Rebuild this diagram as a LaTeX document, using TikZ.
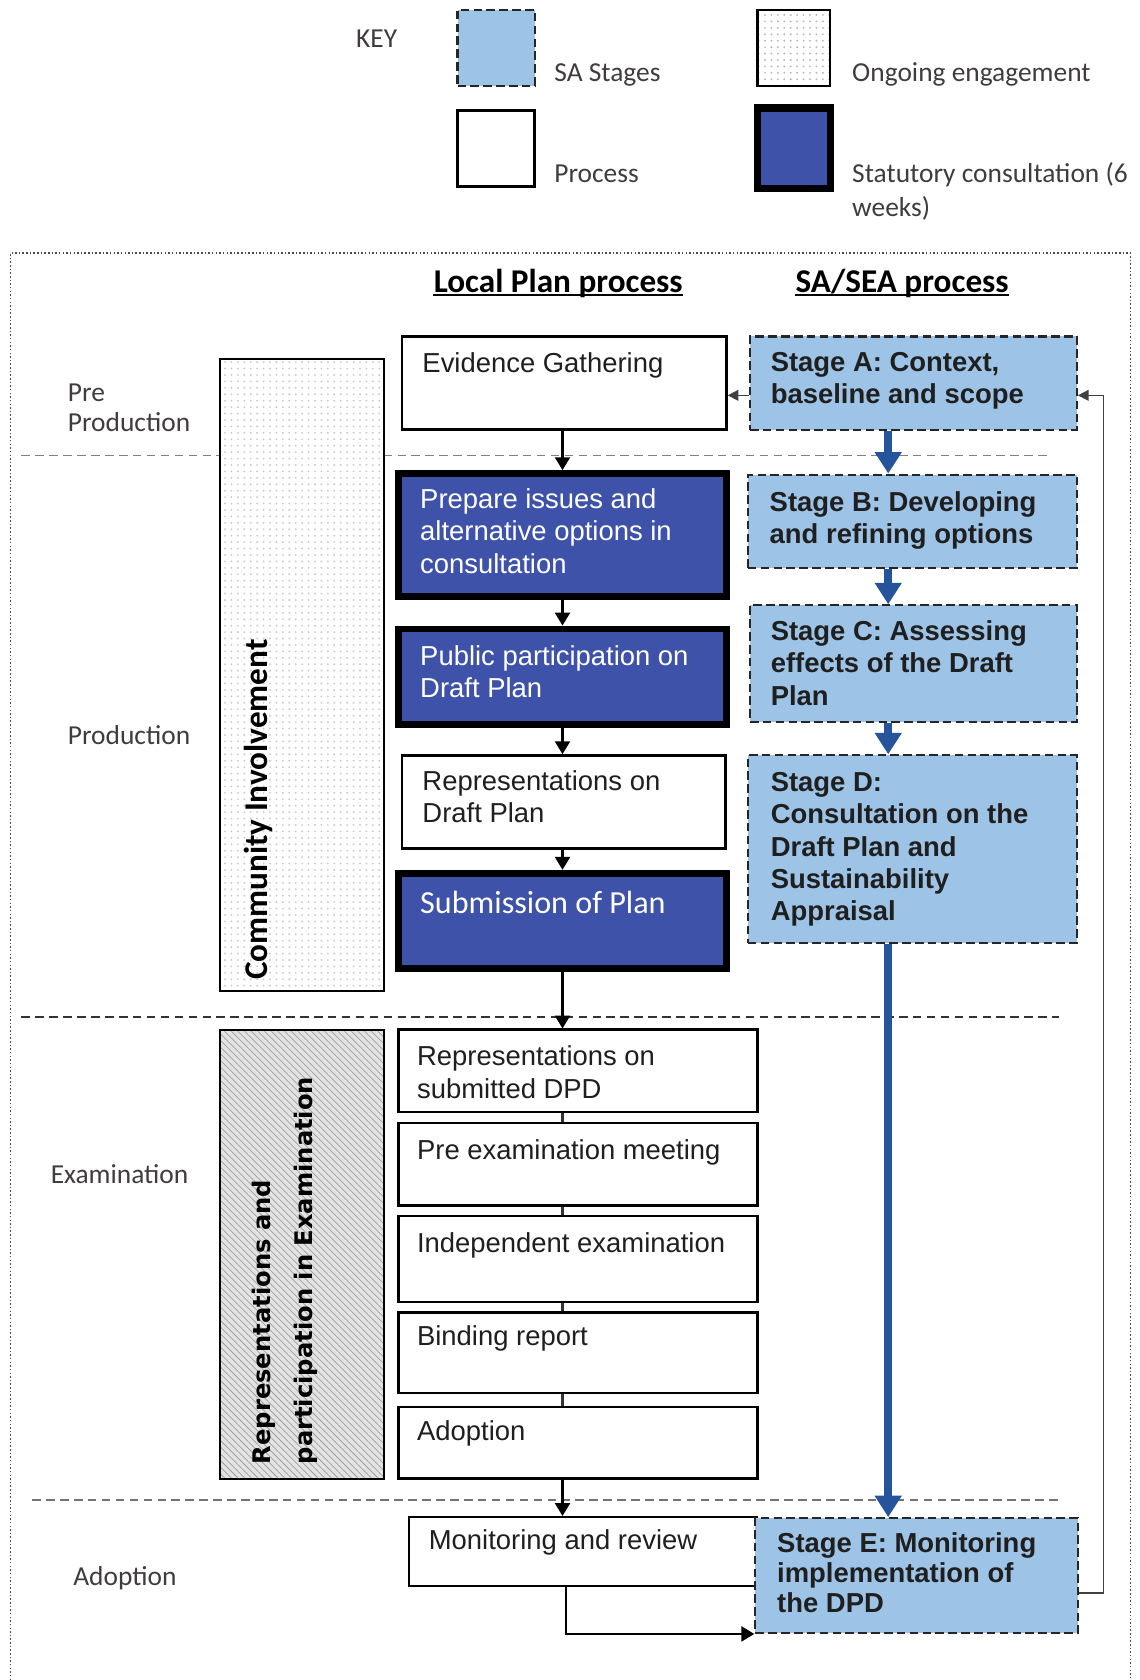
\documentclass[tikz,border=0pt]{standalone}
\usepackage{fontspec}
\setmainfont{Liberation Sans}
\newfontfamily\calfont{Carlito}
\newfontfamily\dvfont{DejaVu Sans}
\usetikzlibrary{arrows.meta,fit,patterns,patterns.meta}
\definecolor{dblue}{RGB}{62,82,170}
\definecolor{lblue}{RGB}{157,195,230}
\definecolor{ablue}{RGB}{38,84,156}
\definecolor{lbl}{RGB}{64,60,60}
\newcommand\ml[1]{\begin{tabular}[t]{@{}l@{}}#1\end{tabular}}
\tikzset{
  bx/.style={fit={#1}, inner sep=0pt, draw=black, line width=1.1pt, fill=white},
  stat/.style={fit={#1}, inner sep=0pt, draw=black, line width=3.2pt, fill=dblue},
  sabox/.style={fit={#1}, inner sep=0pt, draw=black!85, line width=1pt, dash pattern=on 4pt off 2pt, fill=lblue},
  tx/.style={anchor=base west, inner sep=0pt, font=\fontsize{12.8pt}{15pt}\selectfont, text=black!88},
  wtx/.style={tx, text=white},
  stx/.style={tx, font=\fontsize{12.8pt}{15pt}\selectfont\bfseries},
  lab/.style={anchor=base west, inner sep=0pt, font=\calfont\fontsize{12.8pt}{14pt}\selectfont, text=lbl},
  hdr/.style={anchor=base, inner sep=0pt, font=\calfont\bfseries\fontsize{15.5pt}{18pt}\selectfont},
  arr/.style={-{Triangle[length=6pt,width=7pt]}, line width=1pt, draw=black},
  sarr/.style={-{Triangle[length=5pt,width=5pt]}, line width=0.7pt, draw=black!75},
  conn/.style={line width=1pt, draw=black!80},
  barr/.style={-{Triangle[length=10pt,width=12pt]}, line width=3.5pt, draw=ablue, fill=ablue},
  sepline/.style={dash pattern=on 4pt off 2.5pt, line width=0.8pt},
}
\begin{document}
\begin{tikzpicture}[x=0.5pt,y=-0.5pt]
\useasboundingbox (0,0) rectangle (1064,1568);
% outer frame
\draw[black!70, line width=0.7pt, dash pattern=on 0.7pt off 1pt] (10,1568) -- (10,236) -- (1055,236) -- (1055,1568);

% key
\node[lab] (tkey) at (332,44) {KEY};
\node[sabox={(427,9) (499,80)}] (kSA) {};
\node[lab] (tkSA) at (517,76) {SA Stages};
\node[fit={(707,9) (775,80)}, inner sep=0pt, draw=black, line width=1pt, preaction={fill=white}, pattern=dots, pattern color=gray!55] (kOG) {};
\node[lab] (tkOG) at (795,76) {Ongoing engagement};
\node[bx={(427,103) (499,174)}] (kPR) {};
\node[lab] (tkPR) at (517,170) {Process};
\node[fit={(707,101) (775,176)}, inner sep=0pt, draw=black, line width=3.5pt, fill=dblue] (kST) {};
\node[lab, font=\calfont\fontsize{12.8pt}{16pt}\selectfont] (tkST) at (795,170) {\ml{Statutory consultation (6\\weeks)}};

% headers
\node[hdr] (h1) at (521,273) {Local Plan process};
\node[hdr] (h2) at (842,273) {SA/SEA process};
\draw[line width=0.9pt] ([yshift=-1.2pt]h1.base west) -- ([yshift=-1.2pt]h1.base east);
\draw[line width=0.9pt] ([yshift=-1.2pt]h2.base west) -- ([yshift=-1.2pt]h2.base east);

% separators
\draw[sepline, black!50] (20,425) -- (977,425);
\draw[sepline, black!80] (20,949) -- (988,949);
\draw[sepline, black!55] (30,1400) -- (991,1400);

% phase labels
\node[lab] (lpre) at (63,375) {\ml{Pre\\Production}};
\node[lab] (lprod) at (63,695) {Production};
\node[lab] (lexam) at (47,1105) {Examination};
\node[lab] (ladop) at (68,1480) {Adoption};

% community involvement
\node[fit={(205,335) (358,925)}, inner sep=0pt, draw=black, line width=1pt, preaction={fill=white}, pattern=dots, pattern color=gray!40] (ci) {};
\node[rotate=90, anchor=west, inner sep=0pt, font=\calfont\bfseries\fontsize{15.5pt}{18pt}\selectfont] (tci) at (241,915) {Community Involvement};

% representations and participation
\node[fit={(205,961) (358,1380)}, inner sep=0pt, draw=black, line width=1pt, preaction={fill=gray!22}, pattern={Lines[angle=-45,distance=2.2pt,line width=0.35pt]}, pattern color=gray!75] (rpe) {};
\node[rotate=90, anchor=west, inner sep=0pt, font=\dvfont\bfseries\fontsize{11.3pt}{20pt}\selectfont] (trpe) at (264,1367) {\ml{Representations and\\participation in Examination}};

% local plan column
\node[bx={(375,314) (678,401)}] (ev) {};
\node[tx] (tev) at ([shift={(20,35)}]ev.north west) {Evidence Gathering};
\node[stat={(372,442) (678,557)}] (prep) {};
\node[wtx] (tprep) at ([shift={(23,36)}]prep.north west) {\ml{Prepare issues and\\alternative options in\\consultation}};
\node[stat={(372,587) (678,676)}] (pub) {};
\node[wtx] (tpub) at ([shift={(23,37)}]pub.north west) {\ml{Public participation on\\Draft Plan}};
\node[bx={(375,705) (677,792)}] (rdp) {};
\node[tx] (trdp) at ([shift={(20,34)}]rdp.north west) {\ml{Representations on\\Draft Plan}};
\node[stat={(372,815) (678,904)}] (sub) {};
\node[wtx, font=\calfont\fontsize{15pt}{18pt}\selectfont] (tsub) at ([shift={(23,41)}]sub.north west) {Submission of Plan};

% examination
\node[bx={(372,961) (707,1038)}] (e1) {};
\node[tx] (te1) at ([shift={(18,35)}]e1.north west) {\ml{Representations on\\submitted DPD}};
\node[bx={(372,1048) (707,1125)}] (e2) {};
\node[tx] (te2) at ([shift={(18,35)}]e2.north west) {Pre examination meeting};
\node[bx={(372,1135) (707,1215)}] (e3) {};
\node[tx] (te3) at ([shift={(18,35)}]e3.north west) {Independent examination};
\node[bx={(372,1225) (707,1300)}] (e4) {};
\node[tx] (te4) at ([shift={(18,32)}]e4.north west) {Binding report};
\node[bx={(372,1313) (707,1380)}] (e5) {};
\node[tx] (te5) at ([shift={(18,33)}]e5.north west) {Adoption};

% adoption
\node[bx={(382,1416) (706,1480)}] (mon) {};
\node[tx] (tmon) at ([shift={(19,31)}]mon.north west) {Monitoring and review};

% SA column
\node[sabox={(700,314) (1005,401)}] (sA) {};
\node[stx] (tsA) at ([shift={(20,34)}]sA.north west) {\ml{Stage A: Context,\\baseline and scope}};
\node[sabox={(698,443) (1005,530)}] (sB) {};
\node[stx] (tsB) at ([shift={(21,35)}]sB.north west) {\ml{Stage B: Developing\\and refining options}};
\node[sabox={(700,565) (1005,674)}] (sC) {};
\node[stx] (tsC) at ([shift={(20,34)}]sC.north west) {\ml{Stage C: Assessing\\effects of the Draft\\Plan}};
\node[sabox={(698,705) (1005,880)}] (sD) {};
\node[stx] (tsD) at ([shift={(22,35)}]sD.north west) {\ml{Stage D:\\Consultation on the\\Draft Plan and\\Sustainability\\Appraisal}};
\node[sabox={(705,1417) (1006,1524)}] (sE) {};
\node[stx, font=\fontsize{12.8pt}{14pt}\selectfont\bfseries] (tsE) at ([shift={(21,33)}]sE.north west) {\ml{Stage E: Monitoring\\implementation of\\the DPD}};

% helper coordinates
\coordinate (cx) at (525,0);
\coordinate (sx) at (829,0);
\coordinate (mx) at (528,0);
\coordinate (fbE) at (1030,1487);
\coordinate (fbA) at (1030,369);

% local plan arrows
\draw[arr] (ev.south -| cx) -- (prep.north -| cx);
\draw[arr] (prep.south -| cx) -- (pub.north -| cx);
\draw[arr] (pub.south -| cx) -- (rdp.north -| cx);
\draw[arr] (rdp.south -| cx) -- (sub.north -| cx);
\draw[arr] (sub.south -| cx) -- (e1.north -| cx);
\draw[conn] (e1.south -| cx) -- (e2.north -| cx);
\draw[conn] (e2.south -| cx) -- (e3.north -| cx);
\draw[conn] (e3.south -| cx) -- (e4.north -| cx);
\draw[conn] (e4.south -| cx) -- (e5.north -| cx);
\draw[arr] (e5.south -| cx) -- (mon.north -| cx);
\draw[arr] (mon.south -| mx) |- (sE.south west);

% SA arrows
\draw[barr] (sA.south -| sx) -- (sB.north -| sx);
\draw[barr] (sB.south -| sx) -- (sC.north -| sx);
\draw[barr] (sC.south -| sx) -- (sD.north -| sx);
\draw[barr] (sD.south -| sx) -- (sE.north -| sx);

% cross links
\draw[sarr] (sA.west |- fbA) -- (ev.east |- fbA);
\draw[sarr] (sE.east |- fbE) -- (fbE) -- (fbA) -- (sA.east |- fbA);
\end{tikzpicture}
\end{document}
